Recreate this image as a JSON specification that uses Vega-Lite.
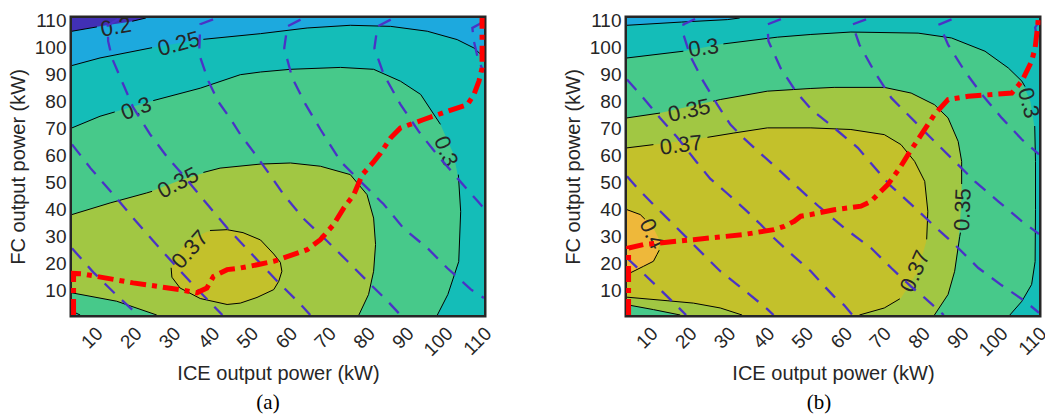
{
"$schema": "https://vega.github.io/schema/vega-lite/v6.json",
"background": "white",
"padding": {"left": 5, "top": 5, "right": 0, "bottom": 0},
"spacing": 62,
"config": {
  "view": {"stroke": "#262626", "strokeWidth": 5},
  "font": "Liberation Sans",
  "axis": {"grid": false, "domain": false, "ticks": false, "labelFont": "Liberation Sans", "labelFontSize": 19, "labelColor": "#262626", "titleFont": "Liberation Sans", "titleFontSize": 20, "titleFontWeight": "normal", "titleColor": "#262626", "labelFlush": false, "labelOverlap": false}
},
"datasets": {
"fa": [
{"lv":1,"x":4,"y":1},{"lv":1,"x":4,"y":111},{"lv":1,"x":110,"y":111},{"lv":1,"x":110,"y":1},
{"lv":0,"x":4,"y":106.1},{"lv":0,"x":11.2,"y":107.9},{"lv":0,"x":19.7,"y":109.8},{"lv":0,"x":23,"y":111},{"lv":0,"x":4,"y":111},
{"lv":2,"x":4,"y":1},{"lv":2,"x":4,"y":93.4},{"lv":2,"x":11.2,"y":96.2},{"lv":2,"x":24.1,"y":99.9},{"lv":2,"x":37,"y":103},{"lv":2,"x":52.5,"y":105.2},{"lv":2,"x":64.5,"y":107.3},{"lv":2,"x":75.6,"y":108.3},{"lv":2,"x":86,"y":107.9},{"lv":2,"x":95.4,"y":106.1},{"lv":2,"x":103.1,"y":103},{"lv":2,"x":107.4,"y":99.9},{"lv":2,"x":110,"y":96.4},{"lv":2,"x":110,"y":1},
{"lv":3,"x":6.1,"y":1},{"lv":3,"x":4,"y":2.4},{"lv":3,"x":4,"y":70.3},{"lv":3,"x":11.2,"y":74.6},{"lv":3,"x":24.1,"y":80.1},{"lv":3,"x":37,"y":85},{"lv":3,"x":47.3,"y":90},{"lv":3,"x":52.5,"y":91},{"lv":3,"x":60.2,"y":92},{"lv":3,"x":73.1,"y":92.7},{"lv":3,"x":81.6,"y":92},{"lv":3,"x":88.5,"y":87.6},{"lv":3,"x":93.7,"y":82.7},{"lv":3,"x":98.8,"y":71.6},{"lv":3,"x":102.2,"y":60.5},{"lv":3,"x":103.6,"y":50},{"lv":3,"x":104,"y":39.3},{"lv":3,"x":103.5,"y":20.8},{"lv":3,"x":100.7,"y":8.6},{"lv":3,"x":98,"y":1},
{"lv":4,"x":4,"y":9.2},{"lv":4,"x":15.5,"y":6.1},{"lv":4,"x":25.8,"y":1},{"lv":4,"x":77.8,"y":1},{"lv":4,"x":80.3,"y":8.6},{"lv":4,"x":81.6,"y":17.2},{"lv":4,"x":82.1,"y":27.1},{"lv":4,"x":81.6,"y":36.9},{"lv":4,"x":79.9,"y":45.6},{"lv":4,"x":75.6,"y":53},{"lv":4,"x":67.9,"y":56.1},{"lv":4,"x":60.2,"y":57.3},{"lv":4,"x":52.5,"y":56.9},{"lv":4,"x":42.1,"y":55.4},{"lv":4,"x":32,"y":51},{"lv":4,"x":23.2,"y":46.2},{"lv":4,"x":13.8,"y":42.5},{"lv":4,"x":4,"y":38.2},
{"lv":5,"x":29.5,"y":18.5},{"lv":5,"x":31,"y":23.5},{"lv":5,"x":33.6,"y":28.3},{"lv":5,"x":38.7,"y":31.8},{"lv":5,"x":43.9,"y":32.6},{"lv":5,"x":48,"y":31.5},{"lv":5,"x":52.5,"y":28.8},{"lv":5,"x":55.9,"y":23.6},{"lv":5,"x":57.6,"y":20.5},{"lv":5,"x":58,"y":17.2},{"lv":5,"x":57.2,"y":13.5},{"lv":5,"x":55.9,"y":10.4},{"lv":5,"x":51.6,"y":7.5},{"lv":5,"x":47.3,"y":5.4},{"lv":5,"x":43.9,"y":4.9},{"lv":5,"x":37,"y":7.1},{"lv":5,"x":31.8,"y":11},{"lv":5,"x":29.7,"y":15}
],
"fb": [
{"lv":1,"x":4,"y":1},{"lv":1,"x":4,"y":111},{"lv":1,"x":110,"y":111},{"lv":1,"x":110,"y":1},
{"lv":2,"x":4,"y":1},{"lv":2,"x":4,"y":108.3},{"lv":2,"x":18,"y":109.5},{"lv":2,"x":29.8,"y":110.4},{"lv":2,"x":33,"y":111},{"lv":2,"x":110,"y":111},{"lv":2,"x":110,"y":1},
{"lv":3,"x":4,"y":1},{"lv":3,"x":4,"y":96.2},{"lv":3,"x":18.5,"y":98.7},{"lv":3,"x":29.8,"y":101.7},{"lv":3,"x":42.7,"y":103.9},{"lv":3,"x":51.3,"y":104.9},{"lv":3,"x":61.6,"y":105.8},{"lv":3,"x":78.9,"y":105.4},{"lv":3,"x":87.5,"y":103.6},{"lv":3,"x":96.1,"y":98.7},{"lv":3,"x":102.1,"y":92.5},{"lv":3,"x":105.6,"y":87.6},{"lv":3,"x":107.8,"y":80},{"lv":3,"x":108.9,"y":70},{"lv":3,"x":109.1,"y":57.9},{"lv":3,"x":109.1,"y":40},{"lv":3,"x":109,"y":20.8},{"lv":3,"x":108.1,"y":12.3},{"lv":3,"x":105.6,"y":6.1},{"lv":3,"x":102.5,"y":1},
{"lv":4,"x":17.7,"y":1},{"lv":4,"x":10.8,"y":3},{"lv":4,"x":4,"y":4.8},{"lv":4,"x":4,"y":74},{"lv":4,"x":12.5,"y":75.8},{"lv":4,"x":28,"y":80.8},{"lv":4,"x":40.1,"y":83.9},{"lv":4,"x":51.3,"y":84.9},{"lv":4,"x":57.3,"y":85.3},{"lv":4,"x":70.2,"y":85.3},{"lv":4,"x":77.1,"y":83.2},{"lv":4,"x":83.1,"y":78.9},{"lv":4,"x":86.6,"y":74},{"lv":4,"x":89.2,"y":65.3},{"lv":4,"x":90.1,"y":57.9},{"lv":4,"x":90.1,"y":45.6},{"lv":4,"x":89.6,"y":33.2},{"lv":4,"x":88.3,"y":17.2},{"lv":4,"x":86.6,"y":8.6},{"lv":4,"x":83.1,"y":1},
{"lv":5,"x":33.6,"y":1},{"lv":5,"x":28,"y":3.6},{"lv":5,"x":21.1,"y":5.4},{"lv":5,"x":14.3,"y":6.3},{"lv":5,"x":4,"y":7.6},{"lv":5,"x":4,"y":62.9},{"lv":5,"x":10.8,"y":64.1},{"lv":5,"x":23.7,"y":66.6},{"lv":5,"x":31.5,"y":68.4},{"lv":5,"x":40.1,"y":70.3},{"lv":5,"x":51.3,"y":70.3},{"lv":5,"x":61.6,"y":69.7},{"lv":5,"x":70.2,"y":67.8},{"lv":5,"x":74.5,"y":64.1},{"lv":5,"x":78,"y":57.9},{"lv":5,"x":80.6,"y":50.5},{"lv":5,"x":81.4,"y":39.4},{"lv":5,"x":81,"y":28.3},{"lv":5,"x":78.9,"y":17.2},{"lv":5,"x":74.5,"y":7.3},{"lv":5,"x":70.2,"y":3.6},{"lv":5,"x":63.8,"y":1},
{"lv":6,"x":4,"y":40},{"lv":6,"x":7.4,"y":38.2},{"lv":6,"x":10.8,"y":33.2},{"lv":6,"x":12.5,"y":28.3},{"lv":6,"x":11.7,"y":23.4},{"lv":6,"x":10.8,"y":20.9},{"lv":6,"x":8.2,"y":19},{"lv":6,"x":4,"y":16}
],
"ca": [
{"g":"a1","x":4,"y":106.1},{"g":"a1","x":10.4,"y":107.7},
{"g":"a2","x":19.5,"y":109.8},{"g":"a2","x":23,"y":111},
{"g":"a3","x":4,"y":93.4},{"g":"a3","x":11.2,"y":96.2},{"g":"a3","x":24.6,"y":100},
{"g":"a4","x":37.8,"y":103.1},{"g":"a4","x":52.5,"y":105.2},{"g":"a4","x":64.5,"y":107.3},{"g":"a4","x":75.6,"y":108.3},{"g":"a4","x":86,"y":107.9},{"g":"a4","x":95.4,"y":106.1},{"g":"a4","x":103.1,"y":103},{"g":"a4","x":107.4,"y":99.9},{"g":"a4","x":110,"y":96.4},
{"g":"a5","x":4,"y":70.3},{"g":"a5","x":11.2,"y":74.6},{"g":"a5","x":15,"y":76.2},
{"g":"a6","x":24.9,"y":80.4},{"g":"a6","x":37,"y":85},{"g":"a6","x":47.3,"y":90},{"g":"a6","x":52.5,"y":91},{"g":"a6","x":60.2,"y":92},{"g":"a6","x":73.1,"y":92.7},{"g":"a6","x":81.6,"y":92},{"g":"a6","x":88.5,"y":87.6},{"g":"a6","x":93.7,"y":82.7},{"g":"a6","x":98.8,"y":71.6},
{"g":"a7","x":103.4,"y":53},{"g":"a7","x":104,"y":39.3},{"g":"a7","x":103.5,"y":20.8},{"g":"a7","x":100.7,"y":8.6},{"g":"a7","x":98,"y":1},
{"g":"a8","x":4,"y":2.4},{"g":"a8","x":6.1,"y":1},
{"g":"a9","x":4,"y":38.2},{"g":"a9","x":13.8,"y":42.5},{"g":"a9","x":23.2,"y":46.2},{"g":"a9","x":24.6,"y":46.8},
{"g":"a10","x":37.8,"y":53.8},{"g":"a10","x":42.1,"y":55.4},{"g":"a10","x":52.5,"y":56.9},{"g":"a10","x":60.2,"y":57.3},{"g":"a10","x":67.9,"y":56.1},{"g":"a10","x":75.6,"y":53},{"g":"a10","x":79.9,"y":45.6},{"g":"a10","x":81.6,"y":36.9},{"g":"a10","x":82.1,"y":27.1},{"g":"a10","x":81.6,"y":17.2},{"g":"a10","x":80.3,"y":8.6},{"g":"a10","x":77.8,"y":1},
{"g":"a11","x":4,"y":9.2},{"g":"a11","x":15.5,"y":6.1},{"g":"a11","x":25.8,"y":1},
{"g":"a12","x":39.5,"y":32.3},{"g":"a12","x":43.9,"y":32.6},{"g":"a12","x":48,"y":31.5},{"g":"a12","x":52.5,"y":28.8},{"g":"a12","x":55.9,"y":23.6},{"g":"a12","x":57.6,"y":20.5},{"g":"a12","x":58,"y":17.2},{"g":"a12","x":57.2,"y":13.5},{"g":"a12","x":55.9,"y":10.4},{"g":"a12","x":51.6,"y":7.5},{"g":"a12","x":47.3,"y":5.4},{"g":"a12","x":43.9,"y":4.9},{"g":"a12","x":37,"y":7.1},{"g":"a12","x":31.8,"y":11},{"g":"a12","x":29.7,"y":15},{"g":"a12","x":29.5,"y":18.5}
],
"cb": [
{"g":"b1","x":4,"y":108.3},{"g":"b1","x":18,"y":109.5},{"g":"b1","x":29.8,"y":110.4},{"g":"b1","x":33,"y":111},
{"g":"b2","x":4,"y":96.2},{"g":"b2","x":18.5,"y":98.7},
{"g":"b3","x":28.8,"y":101.4},{"g":"b3","x":42.7,"y":103.9},{"g":"b3","x":51.3,"y":104.9},{"g":"b3","x":61.6,"y":105.8},{"g":"b3","x":78.9,"y":105.4},{"g":"b3","x":87.5,"y":103.6},{"g":"b3","x":96.1,"y":98.7},{"g":"b3","x":102.1,"y":92.5},{"g":"b3","x":105.6,"y":87.6},{"g":"b3","x":106.4,"y":85.6},
{"g":"b4","x":108.9,"y":71},{"g":"b4","x":109.1,"y":57.9},{"g":"b4","x":109.1,"y":40},{"g":"b4","x":109,"y":20.8},{"g":"b4","x":108.1,"y":12.3},{"g":"b4","x":105.6,"y":6.1},{"g":"b4","x":102.5,"y":1},
{"g":"b5","x":4,"y":74},{"g":"b5","x":12.5,"y":75.8},
{"g":"b6","x":26.2,"y":80.2},{"g":"b6","x":28,"y":80.8},{"g":"b6","x":40.1,"y":83.9},{"g":"b6","x":51.3,"y":84.9},{"g":"b6","x":57.3,"y":85.3},{"g":"b6","x":70.2,"y":85.3},{"g":"b6","x":77.1,"y":83.2},{"g":"b6","x":83.1,"y":78.9},{"g":"b6","x":86.6,"y":74},{"g":"b6","x":89.2,"y":65.3},{"g":"b6","x":90.1,"y":57.9},{"g":"b6","x":90.1,"y":49.5},
{"g":"b7","x":89.8,"y":31.5},{"g":"b7","x":89.6,"y":30},{"g":"b7","x":88.3,"y":17.2},{"g":"b7","x":86.6,"y":8.6},{"g":"b7","x":83.1,"y":1},
{"g":"b8","x":4,"y":62.9},{"g":"b8","x":10.8,"y":64.1},
{"g":"b9","x":24.7,"y":66.8},{"g":"b9","x":31.5,"y":68.4},{"g":"b9","x":40.1,"y":70.3},{"g":"b9","x":51.3,"y":70.3},{"g":"b9","x":61.6,"y":69.7},{"g":"b9","x":70.2,"y":67.8},{"g":"b9","x":74.5,"y":64.1},{"g":"b9","x":78,"y":57.9},{"g":"b9","x":80.6,"y":50.5},{"g":"b9","x":81.4,"y":39.4},{"g":"b9","x":81.1,"y":29},
{"g":"b10","x":74.2,"y":7},{"g":"b10","x":70.2,"y":3.6},{"g":"b10","x":63.8,"y":1},
{"g":"b11","x":4,"y":7.6},{"g":"b11","x":14.3,"y":6.3},{"g":"b11","x":21.1,"y":5.4},{"g":"b11","x":28,"y":3.6},{"g":"b11","x":33.6,"y":1},
{"g":"b12","x":4,"y":4.8},{"g":"b12","x":10.8,"y":3},{"g":"b12","x":17.7,"y":1},
{"g":"b13","x":4,"y":40},{"g":"b13","x":7.4,"y":38.2},{"g":"b13","x":8.6,"y":36.5},
{"g":"b14","x":12.3,"y":25},{"g":"b14","x":11.7,"y":23.4},{"g":"b14","x":10.8,"y":20.9},{"g":"b14","x":8.2,"y":19},{"g":"b14","x":4,"y":16}
],
"la": [
{"x":15.3,"y":107.6,"t":"0.2","a":-10},
{"x":31.5,"y":101.4,"t":"0.25","a":-15},
{"x":20.5,"y":77.4,"t":"0.3","a":-20},
{"x":31.3,"y":49.9,"t":"0.35","a":-27},
{"x":34.4,"y":25.2,"t":"0.37","a":-48},
{"x":100.2,"y":61.6,"t":"0.3","a":68}
],
"lb": [
{"x":23.7,"y":99.9,"t":"0.3","a":-8},
{"x":20,"y":76.7,"t":"0.35","a":-12},
{"x":17.9,"y":63.9,"t":"0.37","a":-7},
{"x":10.4,"y":31,"t":"0.4","a":65},
{"x":78.1,"y":17.2,"t":"0.37","a":-66},
{"x":90.4,"y":40,"t":"0.35","a":-88},
{"x":107.3,"y":79.5,"t":"0.3","a":75}
],
"da": [
{"g":"m1","x":4,"y":25.7},{"g":"m1","x":9.5,"y":16.8},{"g":"m1","x":15.5,"y":8.3},{"g":"m1","x":21,"y":1},
{"g":"l0","x":4,"y":64.2},{"g":"l0","x":8.8,"y":55.3},{"g":"l0","x":14.6,"y":45.7},{"g":"l0","x":20,"y":36.5},{"g":"l0","x":26.7,"y":25.5},{"g":"l0","x":33.6,"y":14.6},{"g":"l0","x":37,"y":9.4},{"g":"l0","x":42.7,"y":1},
{"g":"l1","x":16,"y":110.6},{"g":"l1","x":13.2,"y":108.3},{"g":"l1","x":13.3,"y":102.4},{"g":"l1","x":14.3,"y":96.1},{"g":"l1","x":17.4,"y":85.7},{"g":"l1","x":19.7,"y":78},{"g":"l1","x":24.1,"y":67.9},{"g":"l1","x":28.5,"y":59.5},{"g":"l1","x":32.4,"y":53.1},{"g":"l1","x":38.8,"y":42},{"g":"l1","x":44,"y":33.1},{"g":"l1","x":49.9,"y":24.1},{"g":"l1","x":56.8,"y":13.5},{"g":"l1","x":62.8,"y":5},{"g":"l1","x":65.3,"y":1},
{"g":"l2","x":40.3,"y":110.5},{"g":"l2","x":37,"y":108.7},{"g":"l2","x":36.7,"y":97.6},{"g":"l2","x":39.1,"y":87.6},{"g":"l2","x":41.6,"y":80.1},{"g":"l2","x":44.7,"y":73.8},{"g":"l2","x":47.3,"y":67.9},{"g":"l2","x":50.6,"y":61.6},{"g":"l2","x":54.3,"y":54.2},{"g":"l2","x":58.4,"y":45.7},{"g":"l2","x":63.5,"y":36.8},{"g":"l2","x":69.7,"y":28.3},{"g":"l2","x":74.9,"y":20.9},{"g":"l2","x":80,"y":13.5},{"g":"l2","x":85.2,"y":6.1},{"g":"l2","x":88.5,"y":1},
{"g":"l3","x":62.8,"y":110.4},{"g":"l3","x":59.4,"y":107.9},{"g":"l3","x":58.6,"y":99.8},{"g":"l3","x":60.7,"y":88.7},{"g":"l3","x":64.1,"y":79},{"g":"l3","x":67.9,"y":69.8},{"g":"l3","x":73.1,"y":57.9},{"g":"l3","x":78.2,"y":50.5},{"g":"l3","x":84.2,"y":42},{"g":"l3","x":89.3,"y":33.1},{"g":"l3","x":95.5,"y":25.7},{"g":"l3","x":100.6,"y":18.3},{"g":"l3","x":106.6,"y":10.5},{"g":"l3","x":110,"y":7.3},
{"g":"l4","x":86,"y":110.4},{"g":"l4","x":82.6,"y":107.9},{"g":"l4","x":81.8,"y":99.8},{"g":"l4","x":84.2,"y":90.1},{"g":"l4","x":88.5,"y":79},{"g":"l4","x":93.2,"y":69},{"g":"l4","x":98.3,"y":59.7},{"g":"l4","x":103.2,"y":51.6},{"g":"l4","x":108.4,"y":43.1},{"g":"l4","x":110,"y":40.5},
{"g":"l5","x":109.2,"y":109.1},{"g":"l5","x":107,"y":107.3},{"g":"l5","x":107.4,"y":102.4},{"g":"l5","x":108.6,"y":95},{"g":"l5","x":110,"y":91}
],
"db": [
{"g":"n1","x":4,"y":22.1},{"g":"n1","x":11.2,"y":12.3},{"g":"n1","x":19.2,"y":1},
{"g":"n0","x":4,"y":52.4},{"g":"n0","x":6.6,"y":48.1},{"g":"n0","x":10.4,"y":42.5},{"g":"n0","x":16.4,"y":33.9},{"g":"n0","x":22.4,"y":25.2},{"g":"n0","x":28,"y":17.2},{"g":"n0","x":34.5,"y":9.8},{"g":"n0","x":40.1,"y":3.2},{"g":"n0","x":41.7,"y":1},
{"g":"n2","x":4,"y":88.2},{"g":"n2","x":8.2,"y":81.4},{"g":"n2","x":12.5,"y":74},{"g":"n2","x":16.8,"y":67},{"g":"n2","x":22,"y":57.5},{"g":"n2","x":25.4,"y":51.5},{"g":"n2","x":29.8,"y":46},{"g":"n2","x":34.9,"y":39.4},{"g":"n2","x":38.4,"y":34.5},{"g":"n2","x":41.8,"y":29.5},{"g":"n2","x":45.3,"y":24.8},{"g":"n2","x":48.7,"y":20.5},{"g":"n2","x":51.3,"y":17.2},{"g":"n2","x":54.7,"y":11.8},{"g":"n2","x":57.3,"y":7.8},{"g":"n2","x":59.9,"y":4.6},{"g":"n2","x":62,"y":1},
{"g":"n3","x":21.5,"y":110.6},{"g":"n3","x":18.5,"y":108.6},{"g":"n3","x":18.5,"y":105},{"g":"n3","x":20.3,"y":96.8},{"g":"n3","x":23.6,"y":87.6},{"g":"n3","x":27.2,"y":79},{"g":"n3","x":30.6,"y":71.5},{"g":"n3","x":34,"y":66.5},{"g":"n3","x":38.6,"y":60.5},{"g":"n3","x":43.5,"y":54.2},{"g":"n3","x":48.5,"y":47.5},{"g":"n3","x":53.5,"y":41},{"g":"n3","x":59.9,"y":33.2},{"g":"n3","x":66.8,"y":25.8},{"g":"n3","x":72,"y":18.4},{"g":"n3","x":77.1,"y":11.5},{"g":"n3","x":80.6,"y":7.3},{"g":"n3","x":85.5,"y":1},
{"g":"n4","x":43.6,"y":110.6},{"g":"n4","x":40.1,"y":108.6},{"g":"n4","x":40.4,"y":102.4},{"g":"n4","x":43.5,"y":92.5},{"g":"n4","x":47.4,"y":83.9},{"g":"n4","x":51.5,"y":77},{"g":"n4","x":57.3,"y":70.3},{"g":"n4","x":63.4,"y":62.9},{"g":"n4","x":67.5,"y":56},{"g":"n4","x":71.5,"y":49.3},{"g":"n4","x":78,"y":40.8},{"g":"n4","x":83.1,"y":33.9},{"g":"n4","x":88.3,"y":27.1},{"g":"n4","x":94.4,"y":18.4},{"g":"n4","x":100.4,"y":12},{"g":"n4","x":106.4,"y":6.1},{"g":"n4","x":110,"y":1.8},
{"g":"n5","x":65.5,"y":110.5},{"g":"n5","x":62,"y":108.6},{"g":"n5","x":63.8,"y":101.1},{"g":"n5","x":67.6,"y":91.3},{"g":"n5","x":72,"y":81.4},{"g":"n5","x":78,"y":72.7},{"g":"n5","x":83.1,"y":65.3},{"g":"n5","x":88.3,"y":57.9},{"g":"n5","x":93.5,"y":50.5},{"g":"n5","x":99.5,"y":43.1},{"g":"n5","x":105.6,"y":35.7},{"g":"n5","x":110,"y":31},
{"g":"n6","x":87.5,"y":110.5},{"g":"n6","x":84.4,"y":108.6},{"g":"n6","x":86.6,"y":101.1},{"g":"n6","x":90.9,"y":91.3},{"g":"n6","x":95.7,"y":82},{"g":"n6","x":100.4,"y":74},{"g":"n6","x":105.6,"y":66},{"g":"n6","x":110,"y":60.5},
{"g":"n7","x":110,"y":109.5},{"g":"n7","x":109,"y":107.5},{"g":"n7","x":109.5,"y":104},{"g":"n7","x":110,"y":102}
],
"ra": [
{"x":4.4,"y":1},{"x":4.4,"y":16.4},{"x":6.8,"y":16.2},{"x":19.7,"y":12.9},{"x":31.8,"y":10.4},{"x":36.1,"y":9.2},{"x":38.7,"y":11},{"x":40.4,"y":15.3},{"x":43.9,"y":17.8},{"x":47.3,"y":18.4},{"x":52,"y":19.7},{"x":55.9,"y":20.9},{"x":64.5,"y":25.2},{"x":67.9,"y":28.9},{"x":71.3,"y":34.5},{"x":73.9,"y":40.6},{"x":76.5,"y":45.6},{"x":78.7,"y":53},{"x":81.7,"y":57.9},{"x":83.4,"y":61},{"x":86,"y":66.6},{"x":88.5,"y":70.3},{"x":94.5,"y":73.4},{"x":100.5,"y":76.4},{"x":105.7,"y":78.9},{"x":107.4,"y":82.6},{"x":108.7,"y":87.6},{"x":109.5,"y":92.5},{"x":109.5,"y":111}
],
"rb": [
{"x":4.4,"y":1},{"x":4.4,"y":25.8},{"x":8.2,"y":27.1},{"x":21.1,"y":28.9},{"x":34,"y":30.8},{"x":41.8,"y":32.6},{"x":44.4,"y":33.8},{"x":47,"y":35.7},{"x":48.7,"y":37.6},{"x":51.3,"y":38.2},{"x":57.3,"y":40},{"x":64.2,"y":41.3},{"x":66.8,"y":43.1},{"x":68.5,"y":45.6},{"x":71.1,"y":49.3},{"x":74.2,"y":55.5},{"x":76.3,"y":60.4},{"x":79.7,"y":67.8},{"x":83.1,"y":75.2},{"x":86.6,"y":80.8},{"x":91.8,"y":82},{"x":103,"y":83.2},{"x":105.6,"y":87.6},{"x":108.1,"y":95},{"x":109,"y":99.9},{"x":109.7,"y":108.6},{"x":109.8,"y":111}
]
},
"hconcat": [
{
 "width": 412, "height": 297,
 "title": {"text": "(a)", "orient": "bottom", "frame": "group", "anchor": "middle", "font": "Liberation Serif", "fontSize": 21, "fontWeight": "normal", "color": "#000000", "offset": 9, "dx": -10},
 "encoding": {
  "x": {"field": "x", "type": "quantitative", "scale": {"domain": [4, 110], "nice": false, "zero": false}, "axis": {"title": "ICE output power (kW)", "values": [10,20,30,40,50,60,70,80,90,100,110], "labelAngle": -45, "labelAlign": "right", "labelBaseline": "middle", "labelPadding": 15, "labelOffset": 4, "titlePadding": 4}},
  "y": {"field": "y", "type": "quantitative", "scale": {"domain": [1, 111], "nice": false, "zero": false}, "axis": {"title": "FC output power (kW)", "values": [10,20,30,40,50,60,70,80,90,100,110], "labelPadding": 6, "titlePadding": 6}}
 },
 "layer": [
  {"data": {"name": "fa"}, "transform": [{"filter": "datum.lv==1"}], "mark": {"type": "line", "fill": "#1DA9DE", "stroke": "transparent", "strokeWidth": 0, "clip": true}, "encoding": {"order": {"value": null}}},
  {"data": {"name": "fa"}, "transform": [{"filter": "datum.lv==0"}], "mark": {"type": "line", "fill": "#4130B5", "stroke": "transparent", "strokeWidth": 0, "clip": true}, "encoding": {"order": {"value": null}}},
  {"data": {"name": "fa"}, "transform": [{"filter": "datum.lv==2"}], "mark": {"type": "line", "fill": "#14BDB8", "stroke": "transparent", "strokeWidth": 0, "clip": true}, "encoding": {"order": {"value": null}}},
  {"data": {"name": "fa"}, "transform": [{"filter": "datum.lv==3"}], "mark": {"type": "line", "fill": "#47C98A", "stroke": "transparent", "strokeWidth": 0, "clip": true}, "encoding": {"order": {"value": null}}},
  {"data": {"name": "fa"}, "transform": [{"filter": "datum.lv==4"}], "mark": {"type": "line", "fill": "#A1C743", "stroke": "transparent", "strokeWidth": 0, "clip": true}, "encoding": {"order": {"value": null}}},
  {"data": {"name": "fa"}, "transform": [{"filter": "datum.lv==5"}], "mark": {"type": "line", "fill": "#C3C12B", "stroke": "transparent", "strokeWidth": 0, "clip": true}, "encoding": {"order": {"value": null}}},
  {"data": {"name": "ca"}, "mark": {"type": "line", "stroke": "#000000", "strokeWidth": 1, "clip": true}, "encoding": {"detail": {"field": "g", "type": "nominal"}, "order": {"value": null}}},
  {"data": {"name": "la"}, "mark": {"type": "text", "fontSize": 22, "font": "Liberation Sans", "color": "#262626", "align": "center", "baseline": "middle"}, "encoding": {"text": {"field": "t", "type": "nominal"}, "angle": {"field": "a", "type": "quantitative", "scale": null}}},
  {"data": {"name": "da"}, "mark": {"type": "line", "stroke": "#4A33C6", "strokeWidth": 2.3, "strokeDash": [14, 10], "clip": true}, "encoding": {"detail": {"field": "g", "type": "nominal"}, "order": {"value": null}}},
  {"data": {"name": "ra"}, "mark": {"type": "line", "stroke": "#FF0000", "strokeWidth": 5, "strokeDash": [16, 6, 5, 6]}, "encoding": {"order": {"value": null}}}
 ]
},
{
 "width": 412, "height": 297,
 "title": {"text": "(b)", "orient": "bottom", "frame": "group", "anchor": "middle", "font": "Liberation Serif", "fontSize": 21, "fontWeight": "normal", "color": "#000000", "offset": 9, "dx": -14},
 "encoding": {
  "x": {"field": "x", "type": "quantitative", "scale": {"domain": [4, 110], "nice": false, "zero": false}, "axis": {"title": "ICE output power (kW)", "values": [10,20,30,40,50,60,70,80,90,100,110], "labelAngle": -45, "labelAlign": "right", "labelBaseline": "middle", "labelPadding": 15, "labelOffset": 4, "titlePadding": 4}},
  "y": {"field": "y", "type": "quantitative", "scale": {"domain": [1, 111], "nice": false, "zero": false}, "axis": {"title": "FC output power (kW)", "values": [10,20,30,40,50,60,70,80,90,100,110], "labelPadding": 6, "titlePadding": 6}}
 },
 "layer": [
  {"data": {"name": "fb"}, "transform": [{"filter": "datum.lv==1"}], "mark": {"type": "line", "fill": "#1DA9DE", "stroke": "transparent", "strokeWidth": 0, "clip": true}, "encoding": {"order": {"value": null}}},
  {"data": {"name": "fb"}, "transform": [{"filter": "datum.lv==2"}], "mark": {"type": "line", "fill": "#14BDB8", "stroke": "transparent", "strokeWidth": 0, "clip": true}, "encoding": {"order": {"value": null}}},
  {"data": {"name": "fb"}, "transform": [{"filter": "datum.lv==3"}], "mark": {"type": "line", "fill": "#47C98A", "stroke": "transparent", "strokeWidth": 0, "clip": true}, "encoding": {"order": {"value": null}}},
  {"data": {"name": "fb"}, "transform": [{"filter": "datum.lv==4"}], "mark": {"type": "line", "fill": "#A1C743", "stroke": "transparent", "strokeWidth": 0, "clip": true}, "encoding": {"order": {"value": null}}},
  {"data": {"name": "fb"}, "transform": [{"filter": "datum.lv==5"}], "mark": {"type": "line", "fill": "#C3C12B", "stroke": "transparent", "strokeWidth": 0, "clip": true}, "encoding": {"order": {"value": null}}},
  {"data": {"name": "fb"}, "transform": [{"filter": "datum.lv==6"}], "mark": {"type": "line", "fill": "#EEB83A", "stroke": "transparent", "strokeWidth": 0, "clip": true}, "encoding": {"order": {"value": null}}},
  {"data": {"name": "cb"}, "mark": {"type": "line", "stroke": "#000000", "strokeWidth": 1, "clip": true}, "encoding": {"detail": {"field": "g", "type": "nominal"}, "order": {"value": null}}},
  {"data": {"name": "lb"}, "mark": {"type": "text", "fontSize": 22, "font": "Liberation Sans", "color": "#262626", "align": "center", "baseline": "middle"}, "encoding": {"text": {"field": "t", "type": "nominal"}, "angle": {"field": "a", "type": "quantitative", "scale": null}}},
  {"data": {"name": "db"}, "mark": {"type": "line", "stroke": "#4A33C6", "strokeWidth": 2.3, "strokeDash": [14, 10], "clip": true}, "encoding": {"detail": {"field": "g", "type": "nominal"}, "order": {"value": null}}},
  {"data": {"name": "rb"}, "mark": {"type": "line", "stroke": "#FF0000", "strokeWidth": 5, "strokeDash": [16, 6, 5, 6]}, "encoding": {"order": {"value": null}}}
 ]
}
]
}
